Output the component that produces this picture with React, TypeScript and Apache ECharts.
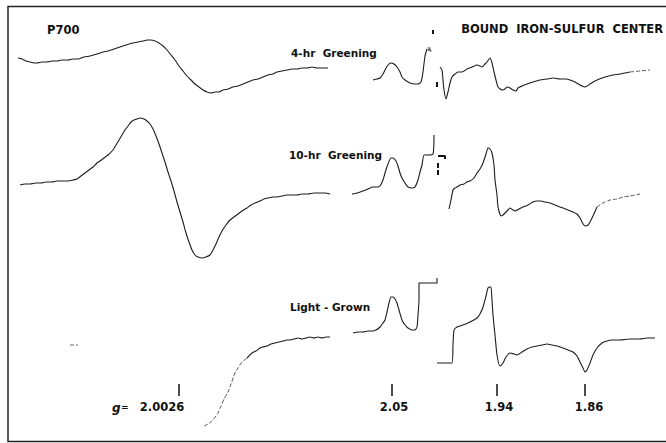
import React, { useEffect, useRef } from "react";
import * as echarts from "echarts";

// ---- traces (figure units: x to the right, y downward) ----
const p700FourHr: number[][] = [
  [18, 58], [22, 59], [26, 61], [30, 62], [34, 63], [37, 63], [42, 62], [47, 62], [52, 61], [57, 61],
  [62, 60], [68, 60], [73, 59], [78, 59], [84, 57], [90, 56], [97, 54], [103, 52], [108, 51], [114, 49],
  [120, 47], [126, 45], [133, 43], [138, 42], [143, 41], [147, 40], [151, 40], [155, 41], [159, 43], [163, 46],
  [167, 50], [171, 55], [175, 60], [179, 66], [183, 71], [187, 76], [191, 80], [195, 84], [199, 87], [203, 90],
  [207, 92], [211, 93], [215, 92], [219, 92], [223, 90], [228, 89], [233, 87], [238, 86], [243, 84], [248, 82],
  [253, 80], [258, 79], [263, 77], [268, 75], [273, 74], [277, 72], [282, 71], [287, 70], [292, 69], [297, 69],
  [302, 68], [307, 68], [312, 67], [317, 68], [322, 68], [328, 68],
];

const p700TenHr: number[][] = [
  [20, 185], [25, 184], [30, 184], [36, 183], [41, 183], [46, 182], [52, 182], [57, 181], [62, 181], [68, 181],
  [73, 180], [77, 179], [81, 176], [85, 173], [89, 170], [93, 167], [97, 163], [100, 161], [104, 158], [108, 155],
  [113, 150], [116, 145], [119, 140], [122, 135], [125, 130], [128, 126], [131, 122], [134, 120], [137, 119], [140, 118],
  [144, 119], [147, 121], [150, 124], [153, 129], [156, 136], [159, 144], [162, 153], [165, 162], [168, 172], [171, 181],
  [174, 191], [177, 202], [180, 212], [183, 222], [186, 233], [189, 242], [192, 250], [195, 255], [198, 257], [202, 258],
  [206, 257], [210, 255], [213, 250], [216, 244], [219, 237], [222, 231], [226, 225], [230, 220], [234, 217], [238, 214],
  [242, 211], [247, 208], [251, 205], [255, 203], [260, 201], [264, 199], [268, 198], [273, 197], [277, 197], [282, 196],
  [287, 195], [292, 195], [297, 195], [302, 194], [308, 194], [314, 193], [320, 193], [325, 193], [330, 194],
];

const p700LightFaint: number[][] = [
  [70, 345], [78, 345],
];

const p700LightLow: number[][] = [
  [204, 426], [208, 424], [211, 422], [213, 420], [216, 416], [218, 413], [221, 406], [224, 399],
  [228, 392], [231, 384], [235, 373], [238, 368], [242, 362], [247, 358],
];

const p700LightHigh: number[][] = [
  [247, 358], [252, 353], [256, 351], [260, 348], [263, 347], [267, 346], [271, 344], [275, 343], [279, 342],
  [283, 341], [287, 340], [290, 340], [294, 339], [298, 338], [302, 339], [306, 338], [310, 337], [314, 338],
  [318, 337], [322, 338], [326, 337], [330, 337],
];

const feFourHrLeft: number[][] = [
  [373, 80], [377, 79], [380, 78], [383, 74], [385, 70], [388, 65], [391, 63], [394, 64], [397, 67], [400, 72],
  [402, 77], [405, 80], [410, 83], [415, 84], [418, 84], [421, 82], [423, 72], [425, 56], [427, 49],
];

const feFourHrSquiggle: number[][] = [
  [428, 47], [429, 52], [430, 47], [431, 52],
];

const feFourHrRight: number[][] = [
  [440, 67], [442, 70], [443, 80], [444, 90], [446, 99], [448, 92], [450, 83], [452, 77], [455, 74], [458, 72],
  [462, 72], [467, 69], [472, 67], [477, 65], [480, 66], [482, 67], [485, 64], [487, 62], [490, 58], [492, 63],
  [494, 72], [496, 80], [498, 87], [502, 90], [505, 89], [507, 87], [510, 88], [513, 90], [516, 91], [518, 88],
  [522, 86], [527, 84], [533, 82], [540, 80], [547, 79], [553, 78], [560, 79], [566, 79], [570, 80], [575, 82],
  [580, 85], [585, 87], [590, 84], [597, 80], [605, 77], [613, 75], [620, 74], [630, 72],
];

const feFourHrTail: number[][] = [
  [630, 72], [640, 71], [650, 70],
];

const feTenHrLeft: number[][] = [
  [352, 194], [357, 193], [363, 191], [368, 189], [373, 187], [377, 187], [380, 186], [383, 180], [385, 173], [388, 164],
  [391, 158], [393, 158], [396, 161], [398, 166], [400, 173], [402, 178], [405, 183], [408, 187], [412, 188], [415, 187],
  [418, 180], [420, 172], [422, 165], [424, 155], [428, 155], [433, 154], [434, 135],
];

const feTenHrRight: number[][] = [
  [449, 209], [451, 200], [453, 190], [455, 188], [457, 187], [460, 185], [464, 184], [467, 182], [470, 181], [474, 178],
  [477, 173], [480, 169], [483, 163], [486, 154], [488, 148], [490, 149], [492, 153], [494, 165], [495, 180], [497, 195],
  [498, 207], [501, 216], [503, 215], [505, 213], [508, 210], [510, 208], [513, 210], [515, 211], [519, 209], [523, 207],
  [528, 205], [533, 202], [537, 201], [541, 201], [545, 202], [550, 203], [555, 205], [560, 207], [563, 208], [568, 210],
  [573, 212], [577, 214], [580, 218], [582, 222], [585, 226], [588, 225], [590, 222], [593, 216], [597, 207],
];

const feTenHrTail: number[][] = [
  [597, 207], [603, 203], [610, 200], [617, 199], [623, 197], [630, 196], [640, 194],
];

const feLightLeft: number[][] = [
  [353, 333], [358, 332], [363, 332], [368, 331], [373, 331], [376, 330], [380, 327], [383, 323], [385, 320], [387, 312],
  [389, 303], [391, 297], [393, 297], [395, 299], [397, 303], [399, 310], [402, 320], [405, 325], [408, 328], [412, 330],
  [415, 330], [417, 327], [418, 315], [419, 300], [419, 283], [428, 283], [437, 283], [437, 278],
];

const feLightRight: number[][] = [
  [437, 363], [445, 363], [452, 363], [453, 345], [454, 330], [457, 327], [463, 325], [470, 322], [477, 318], [480, 314],
  [483, 307], [486, 296], [488, 288], [490, 287], [491, 287], [492, 300], [493, 315], [495, 335], [497, 355], [500, 366],
  [503, 363], [506, 357], [510, 353], [514, 354], [517, 355], [522, 352], [527, 349], [532, 347], [537, 346], [542, 345],
  [547, 344], [552, 345], [557, 346], [563, 348], [568, 350], [573, 352], [577, 356], [580, 362], [583, 368], [585, 372],
  [587, 370], [590, 363], [593, 355], [597, 348], [602, 343], [607, 341], [612, 340], [620, 340], [630, 339], [640, 339],
  [647, 338], [655, 338],
];

// small calibration marks
const markStrokes: number[][][] = [
  [[433, 30], [433, 34]],
  [[437, 82], [437, 87]],
  [[438, 156], [445, 156], [445, 159]],
  [[438, 163], [438, 168]],
  [[438, 170], [438, 175]],
];

const tickPositions = [179, 392, 497, 585];
const tickLabels = ["2.0026", "2.05", "1.94", "1.86"];
const tickTop = 384;
const tickBottom = 396;

const sampleLabels = ["4-hr  Greening", "10-hr  Greening", "Light - Grown"];
const panelTitles = ["P700", "BOUND  IRON-SULFUR  CENTER"];

const W = 666;
const H = 443;
const INK = "#1c1c1c";
const FONT = "DejaVu Sans";

type Trace = { data: number[][]; style: "solid" | "faint" | "bold" };

const traces: Trace[] = [
  { data: p700FourHr, style: "solid" },
  { data: p700TenHr, style: "solid" },
  { data: p700LightFaint, style: "faint" },
  { data: p700LightLow, style: "faint" },
  { data: p700LightHigh, style: "solid" },
  { data: feFourHrLeft, style: "solid" },
  { data: feFourHrSquiggle, style: "faint" },
  { data: feFourHrRight, style: "solid" },
  { data: feFourHrTail, style: "faint" },
  { data: feTenHrLeft, style: "solid" },
  { data: feTenHrRight, style: "solid" },
  { data: feTenHrTail, style: "faint" },
  { data: feLightLeft, style: "solid" },
  { data: feLightRight, style: "solid" },
  ...markStrokes.map((d) => ({ data: d, style: "bold" as const })),
];

function lineStyleFor(s: Trace["style"]) {
  if (s === "faint") return { color: "#555", width: 1, type: "dashed" as const };
  if (s === "bold") return { color: "#111", width: 2, type: "solid" as const };
  return { color: INK, width: 1.1, type: "solid" as const };
}

export default function App() {
  const ref = useRef<HTMLDivElement>(null);

  useEffect(() => {
    if (!ref.current) return;
    const chart = echarts.init(ref.current, undefined, { renderer: "svg" });

    const series: any[] = traces.map((t) => ({
      type: "line",
      data: t.data,
      showSymbol: false,
      symbol: "none",
      smooth: 0.2,
      lineStyle: lineStyleFor(t.style),
      silent: true,
    }));

    series.push({
      type: "line",
      data: [],
      symbol: "none",
      silent: true,
      markLine: {
        silent: true,
        symbol: ["none", "none"],
        label: { show: false },
        lineStyle: { color: "#111", width: 1.5, type: "solid" },
        data: tickPositions.map((x) => [{ coord: [x, tickTop] }, { coord: [x, tickBottom] }]),
      },
    });

    const labelOffsets = [-17, 2, 2, 4];
    const textBase = { fontFamily: FONT, fontWeight: "bold", fill: "#111" };

    const graphic: any[] = [
      {
        type: "polyline",
        shape: { points: [[700, 6.5], [8, 6.5], [8, 441.5], [700, 441.5]] },
        style: { fill: "none", stroke: "#222", lineWidth: 1.5 },
        silent: true,
      },
      {
        type: "text",
        x: 47,
        y: 30,
        style: { ...textBase, text: panelTitles[0], fontSize: 11.5, textAlign: "left", textVerticalAlign: "middle" },
      },
      {
        type: "text",
        x: 663,
        y: 29,
        style: { ...textBase, text: panelTitles[1], fontSize: 11.5, textAlign: "right", textVerticalAlign: "middle" },
      },
      {
        type: "text",
        x: 291,
        y: 53,
        style: { ...textBase, text: sampleLabels[0], fontSize: 10.5, textAlign: "left", textVerticalAlign: "middle" },
      },
      {
        type: "text",
        x: 289,
        y: 155,
        style: { ...textBase, text: sampleLabels[1], fontSize: 10.5, textAlign: "left", textVerticalAlign: "middle" },
      },
      {
        type: "text",
        x: 290,
        y: 307,
        style: { ...textBase, text: sampleLabels[2], fontSize: 10.5, textAlign: "left", textVerticalAlign: "middle" },
      },
      {
        type: "text",
        x: 112,
        y: 408,
        style: { ...textBase, text: "g", fontStyle: "italic", fontSize: 12, textAlign: "left", textVerticalAlign: "middle" },
      },
      {
        type: "text",
        x: 121,
        y: 407,
        style: { ...textBase, text: "=", fontSize: 9, textAlign: "left", textVerticalAlign: "middle" },
      },
      ...tickLabels.map((lab, i) => ({
        type: "text",
        x: tickPositions[i] + labelOffsets[i],
        y: 407,
        style: { ...textBase, text: lab, fontSize: 11.5, textAlign: "center", textVerticalAlign: "middle" },
      })),
    ];

    chart.setOption({
      animation: false,
      backgroundColor: "#ffffff",
      grid: { left: 0, right: 0, top: 0, bottom: 0 },
      xAxis: { type: "value", min: 0, max: W, show: false },
      yAxis: { type: "value", min: 0, max: H, inverse: true, show: false },
      series,
      graphic,
    });

    return () => chart.dispose();
  }, []);

  return (
    <div
      ref={ref}
      style={{ position: "fixed", left: 0, top: 0, width: W, height: H, background: "#fff" }}
    />
  );
}
